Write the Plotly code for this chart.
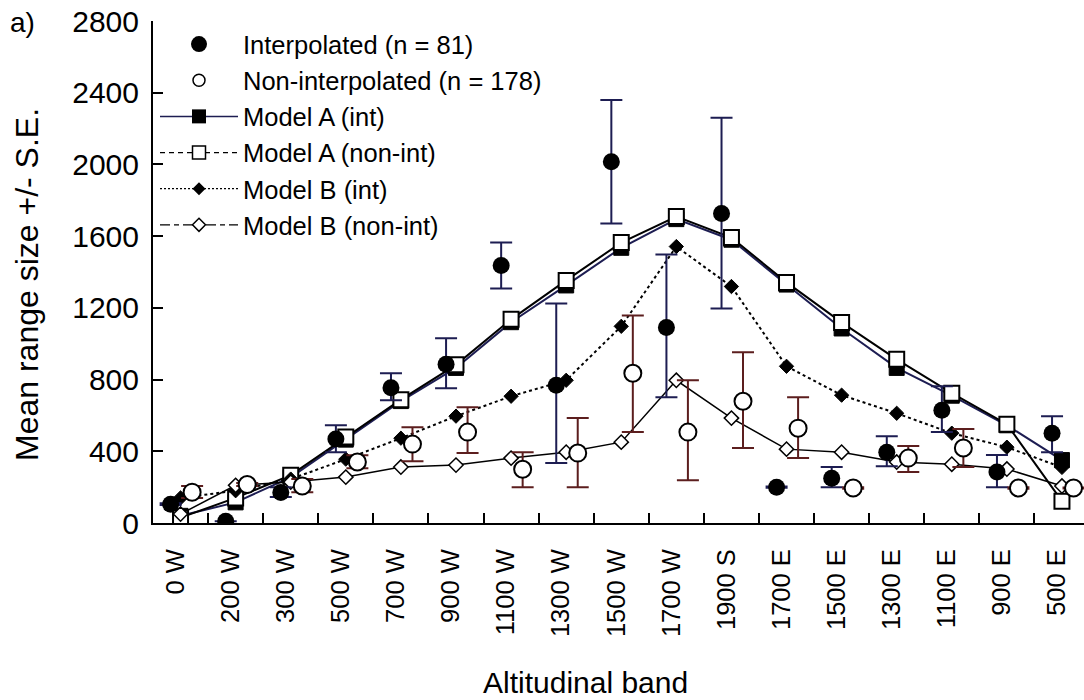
import plotly.graph_objects as go

# Altitudinal bands along the transect (west slope, summit, east slope)
bands = ["0 W", "200 W", "300 W", "500 W", "700 W", "900 W", "1100 W", "1300 W",
         "1500 W", "1700 W", "1900 S", "1700 E", "1500 E", "1300 E", "1100 E",
         "900 E", "500 E"]

# Observed mean range size, interpolated species, with S.E. (upper / lower)
interp_mean = [105, 10, 170, 468, 755, 885, 1436, 768, 2015, 1091, 1726, 200, 250,
               395, 629, 284, 501]
interp_se_plus = [5, 0, 30, 77, 80, 145, 128, 457, 345, 406, 534, 3, 62, 89, 134, 95, 95]
interp_se_minus = [5, 0, 25, 73, 70, 133, 128, 434, 345, 390, 529, 3, 50, 78, 122, 84, 106]

# Observed mean range size, non-interpolated species, with S.E.
nonint_mean = [172, 215, 206, 340, 440, 507, 300, 390, 835, 507, 679, 529, 195, 362,
               418, 195, 195]
nonint_se_plus = [35, 8, 39, 38, 94, 139, 95, 195, 323, 289, 273, 173, 4, 67, 106, 4, 3]
nonint_se_minus = [33, 8, 34, 34, 95, 117, 100, 190, 328, 268, 261, 167, 4, 78, 106, 4, 3]

# Model predictions
model_a_int = [40, 115, 255, 465, 680, 865, 1120, 1325, 1535, 1695, 1580, 1330, 1085,
               865, 710, 545, 351]
model_a_nonint = [30, 140, 267, 479, 688, 882, 1136, 1353, 1564, 1709, 1592, 1342, 1119,
                  913, 724, 551, 122]
model_b_int = [140, 180, 245, 356, 473, 596, 707, 796, 1097, 1542, 1319, 874, 713, 612,
               501, 423, 310]
model_b_nonint = [50, 210, 228, 256, 312, 323, 362, 395, 451, 796, 585, 412, 395, 340,
                  328, 301, 206]

y_ticks = [0, 400, 800, 1200, 1600, 2000, 2400, 2800]

FONT = "Liberation Sans, Arial, sans-serif"
NAVY = "#1d1d52"
MAROON = "#5c1e1e"

pos = list(range(len(bands)))
# observed series are drawn slightly either side of the band centre
pos_int = [p - 0.18 for p in pos]
pos_non = [p + 0.21 for p in pos]

fig = go.Figure()

# model curves
fig.add_trace(go.Scatter(
    x=pos, y=model_a_int, mode="lines+markers", showlegend=False,
    line=dict(color=NAVY, width=2),
    marker=dict(symbol="square", size=15, color="black", line=dict(color="black", width=1))))
fig.add_trace(go.Scatter(
    x=pos, y=model_a_nonint, mode="lines+markers", showlegend=False,
    line=dict(color="black", width=2),
    marker=dict(symbol="square", size=15, color="white", line=dict(color="black", width=2))))
fig.add_trace(go.Scatter(
    x=pos, y=model_b_int, mode="lines+markers", showlegend=False,
    line=dict(color="black", width=2, dash="dot"),
    marker=dict(symbol="diamond", size=11, color="black", line=dict(color="black", width=1))))
fig.add_trace(go.Scatter(
    x=pos, y=model_b_nonint, mode="lines+markers", showlegend=False,
    line=dict(color="black", width=1.5),
    marker=dict(symbol="diamond", size=11, color="white", line=dict(color="black", width=1.5))))

# observed means with standard errors
fig.add_trace(go.Scatter(
    x=pos_int, y=interp_mean, mode="markers", showlegend=False,
    marker=dict(symbol="circle", size=17, color="black"),
    error_y=dict(type="data", array=interp_se_plus, arrayminus=interp_se_minus,
                 symmetric=False, color=NAVY, thickness=2, width=11)))
fig.add_trace(go.Scatter(
    x=pos_non, y=nonint_mean, mode="markers", showlegend=False,
    marker=dict(symbol="circle", size=17, color="white", line=dict(color="black", width=2)),
    error_y=dict(type="data", array=nonint_se_plus, arrayminus=nonint_se_minus,
                 symmetric=False, color=MAROON, thickness=2, width=11)))

# legend entries
legend_items = [
    ("Interpolated (n = 81)", "markers", None,
     dict(symbol="circle", size=17, color="black")),
    ("Non-interpolated (n = 178)", "markers", None,
     dict(symbol="circle", size=12, color="white", line=dict(color="black", width=1.5))),
    ("Model A (int)", "lines+markers", dict(color=NAVY, width=1.5),
     dict(symbol="square", size=14, color="black")),
    ("Model A (non-int)", "lines+markers", dict(color="black", width=1.2, dash="5px,4px"),
     dict(symbol="square", size=13, color="white", line=dict(color="black", width=1.5))),
    ("Model B (int)", "lines+markers", dict(color="black", width=1.2, dash="2px,2px"),
     dict(symbol="diamond", size=10, color="black")),
    ("Model B (non-int)", "lines+markers", dict(color="black", width=1.2, dash="10px,4px,5px,4px"),
     dict(symbol="diamond", size=10, color="white", line=dict(color="black", width=1.5))),
]
for name, mode, line, marker in legend_items:
    kw = dict(x=[None], y=[None], mode=mode, name=name, marker=marker)
    if line is not None:
        kw["line"] = line
    fig.add_trace(go.Scatter(**kw))

W, H = 1084, 700
ML, MR, MT, MB = 153, 0, 21, 177
pw = W - ML - MR
ph = H - MT - MB


def px_x(x):
    return (x - ML) / pw


def px_y(y):
    return (H - MB - y) / ph


fig.update_layout(
    width=W, height=H,
    margin=dict(l=ML, r=MR, t=MT, b=MB, pad=0),
    paper_bgcolor="white", plot_bgcolor="white",
    font=dict(family=FONT, color="black"),
    legend=dict(x=px_x(155), y=px_y(21), xanchor="left", yanchor="top",
                bgcolor="rgba(0,0,0,0)", borderwidth=0, itemwidth=78,
                font=dict(size=25.5, family=FONT), itemclick=False),
    xaxis=dict(
        range=[-0.5, 16.4], tickmode="array", tickvals=pos, ticktext=bands,
        tickangle=-90, ticks="", tickfont=dict(size=25.5, family=FONT),
        ticklabelstandoff=14, ticklabelshift=-5,
        showline=True, linecolor="black", linewidth=2,
        showgrid=False, zeroline=False,
        minor=dict(tickmode="array", tickvals=[p + 0.5 for p in pos[:-1]],
                   ticks="inside", ticklen=10, tickwidth=1.5, tickcolor="black",
                   showgrid=False),
    ),
    yaxis=dict(
        range=[0, 2800], tickmode="array", tickvals=y_ticks,
        ticks="inside", ticklen=10, tickwidth=1.5, tickcolor="black",
        tickfont=dict(size=30, family=FONT), ticklabelstandoff=6,
        showline=True, linecolor="black", linewidth=2,
        showgrid=False, zeroline=False,
    ),
    annotations=[
        dict(text="a)", xref="paper", yref="paper", x=px_x(22), y=px_y(22),
             xanchor="center", yanchor="middle", showarrow=False,
             font=dict(size=28, family=FONT)),
        dict(text="Mean range size +/- S.E.", xref="paper", yref="paper",
             x=px_x(27), y=px_y(285), xanchor="center", yanchor="middle",
             textangle=-90, showarrow=False, font=dict(size=32, family=FONT)),
        dict(text="Altitudinal band", xref="paper", yref="paper",
             x=px_x(585), y=px_y(682), xanchor="center", yanchor="middle",
             showarrow=False, font=dict(size=30, family=FONT)),
    ],
)

fig.write_html("out.html")
